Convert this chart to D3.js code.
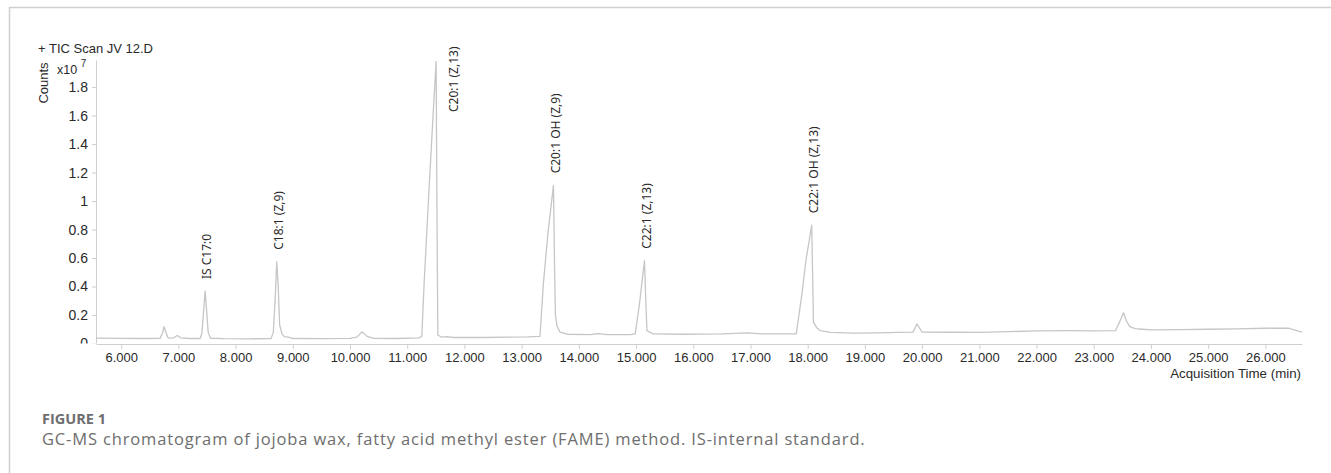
<!DOCTYPE html>
<html>
<head>
<meta charset="utf-8">
<script src="https://cdn.jsdelivr.net/npm/d3@7"></script>
<style>
  html, body { margin: 0; padding: 0; background: #fff; }
  #chart { width: 1331px; height: 473px; }
</style>
</head>
<body>
<div id="chart"></div>
<script>
//Datos (tiempo en min, cuentas x10^7)
const traceTime = [5.56, 6.00, 6.40, 6.68, 6.72, 6.75, 6.78, 6.82, 6.92, 6.98, 7.04, 7.20, 7.38, 7.41, 7.44, 7.467, 7.49, 7.52, 7.56, 7.80,
    8.20, 8.62, 8.66, 8.69, 8.72, 8.745, 8.77, 8.81, 8.85, 8.92, 9.00, 9.50, 10.00, 10.12, 10.21, 10.30, 10.40, 10.80, 11.20, 11.255,
    11.295, 11.37, 11.45, 11.505, 11.52, 11.535, 11.60, 11.70, 11.80, 12.30, 12.80, 13.10, 13.32, 13.38, 13.46, 13.556, 13.575, 13.59, 13.62, 13.67,
    13.80, 14.20, 14.33, 14.50, 14.90, 14.985, 15.06, 15.147, 15.17, 15.19, 15.30, 15.80, 16.50, 16.95, 17.20, 17.80, 17.90, 17.97, 18.07, 18.09,
    18.10, 18.16, 18.22, 18.40, 18.80, 19.20, 19.60, 19.84, 19.91, 20.00, 20.50, 21.00, 21.50, 22.00, 22.60, 23.00, 23.38, 23.45, 23.52, 23.57,
    23.63, 23.72, 23.85, 24.00, 24.50, 25.00, 25.50, 26.00, 26.40, 26.50, 26.64];
const traceCounts = [0.038, 0.036, 0.035, 0.036, 0.07, 0.118, 0.08, 0.038, 0.04, 0.056, 0.04, 0.035, 0.035, 0.07, 0.22, 0.368, 0.25, 0.08, 0.037, 0.034,
    0.033, 0.034, 0.08, 0.3, 0.574, 0.4, 0.13, 0.07, 0.048, 0.045, 0.035, 0.034, 0.036, 0.045, 0.082, 0.05, 0.037, 0.035, 0.04, 0.05,
    0.42, 1.0, 1.59, 1.98, 0.9, 0.06, 0.045, 0.048, 0.042, 0.042, 0.045, 0.046, 0.05, 0.42, 0.775, 1.11, 0.55, 0.2, 0.12, 0.08,
    0.065, 0.062, 0.07, 0.062, 0.063, 0.067, 0.28, 0.581, 0.3, 0.09, 0.067, 0.065, 0.068, 0.075, 0.068, 0.067, 0.35, 0.586, 0.83, 0.4,
    0.15, 0.11, 0.09, 0.078, 0.073, 0.074, 0.078, 0.08, 0.137, 0.08, 0.079, 0.078, 0.083, 0.088, 0.09, 0.088, 0.09, 0.15, 0.216, 0.16,
    0.118, 0.105, 0.1, 0.095, 0.097, 0.1, 0.102, 0.107, 0.108, 0.095, 0.079];

//Picos identificados
const peakNames = ['IS C17:0', 'C18:1 (Z,9)', 'C20:1 (Z,13)', 'C20:1 OH (Z,9)', 'C22:1 (Z,13)', 'C22:1 OH (Z,13)'];
const peakTimes = [7.467, 8.72, 11.505, 13.556, 15.147, 18.07];
const peakCounts = [0.368, 0.574, 1.98, 1.11, 0.581, 0.83];

//Ticks
const xTicks = [6, 7, 8, 9, 10, 11, 12, 13, 14, 15, 16, 17, 18, 19, 20, 21, 22, 23, 24, 25, 26];
const yTicks = [0, 0.2, 0.4, 0.6, 0.8, 1, 1.2, 1.4, 1.6, 1.8];

const COLOR_TRACE = '#c6c6c6',
    COLOR_AXIS = '#cfcfcf',
    COLOR_TEXT = '#2a2a2a',
    COLOR_CAPTION = '#6e6e6e';

let svg = d3.select('#chart')
    .append('svg')
        .attr('width', 1331)
        .attr('height', 473);

//Marco
svg.append('path')
    .attr('d', 'M9.5,480V7.5H1340')
    .attr('fill', 'none')
    .attr('stroke', '#d0d0d0')
    .attr('stroke-width', 1.5);

let x = d3.scaleLinear()
    .domain([5.56, 26.64])
    .range([96, 1302]);

let y = d3.scaleLinear()
    .domain([0, 1.99])
    .range([343.5, 60]);

//Eje X
let gx = svg.append('g')
    .attr('transform', 'translate(0,344)')
    .call(d3.axisBottom(x).tickValues(xTicks).tickFormat(d3.format('.3f')).tickSize(5).tickPadding(4).tickSizeOuter(0));

//Eje Y (la etiqueta 0 queda cortada por el eje como en el original)
svg.append('clipPath')
    .attr('id', 'clipY')
    .append('rect')
        .attr('x', -100).attr('y', 40).attr('width', 104).attr('height', 303.5);

let gy = svg.append('g')
    .attr('transform', 'translate(96,0)')
    .attr('clip-path', 'url(#clipY)')
    .call(d3.axisLeft(y).tickValues(yTicks).tickFormat(function(d) { return +d.toFixed(1); }).tickSize(4).tickPadding(4).tickSizeOuter(0));

[gx, gy].forEach(function(g) {
    g.select('.domain').attr('stroke', COLOR_AXIS);
    g.selectAll('.tick line').attr('stroke', COLOR_AXIS);
    g.selectAll('.tick text')
        .attr('fill', COLOR_TEXT)
        .style('font-family', '"Liberation Sans", Arial, sans-serif')
        .style('font-size', '13px');
});
gy.selectAll('.tick text').style('font-size', '14px');

//Traza del cromatograma
let trace = traceTime.map(function(t, i) { return [t, traceCounts[i]]; });

svg.append('path')
    .datum(trace)
    .attr('fill', 'none')
    .attr('stroke', COLOR_TRACE)
    .attr('stroke-width', 1.3)
    .attr('stroke-linejoin', 'round')
    .attr('d', d3.line()
        .x(function(d) { return x(d[0]); })
        .y(function(d) { return y(d[1]); }));

//Etiquetas de los picos
svg.append('g')
    .selectAll('text')
    .data(peakNames)
    .enter()
    .append('text')
    .attr('transform', function(d, i) {
        if (peakCounts[i] > 1.8) {
            //pico que llega arriba: etiqueta al lado
            return 'translate(' + (x(peakTimes[i]) + 18) + ',' + 112 + ') rotate(-90)';
        }
        return 'translate(' + (x(peakTimes[i]) + 2) + ',' + (y(peakCounts[i]) - 12) + ') rotate(-90)';
    })
    .attr('dy', '0.35em')
    .attr('fill', COLOR_TEXT)
    .style('font-family', '"Noto Sans", sans-serif')
    .style('font-size', '12px')
    .text(function(d) { return d; });

//Textos del grafico
svg.append('text')
    .attr('x', 38).attr('y', 53)
    .attr('fill', COLOR_TEXT)
    .style('font-family', '"Liberation Sans", Arial, sans-serif')
    .style('font-size', '13px')
    .text('+ TIC Scan JV 12.D');

svg.append('text')
    .attr('transform', 'translate(43,83) rotate(-90)')
    .attr('text-anchor', 'middle')
    .attr('dy', '0.35em')
    .attr('fill', COLOR_TEXT)
    .style('font-family', '"Liberation Sans", Arial, sans-serif')
    .style('font-size', '13px')
    .text('Counts');

let mult = svg.append('text')
    .attr('x', 57).attr('y', 74)
    .attr('fill', COLOR_TEXT)
    .style('font-family', '"Liberation Sans", Arial, sans-serif')
    .style('font-size', '12.5px');
mult.append('tspan').text('x10 ');
mult.append('tspan').attr('dy', -7).style('font-size', '10px').text('7');

svg.append('text')
    .attr('x', 1301).attr('y', 378)
    .attr('text-anchor', 'end')
    .attr('fill', COLOR_TEXT)
    .style('font-family', '"Liberation Sans", Arial, sans-serif')
    .style('font-size', '13.3px')
    .text('Acquisition Time (min)');

//Pie de figura
svg.append('text')
    .attr('x', 42).attr('y', 423.5)
    .attr('fill', COLOR_CAPTION)
    .style('font-family', '"Open Sans", sans-serif')
    .style('font-weight', 'bold')
    .style('font-size', '14.5px')
    .text('FIGURE 1');

svg.append('text')
    .attr('x', 42).attr('y', 445)
    .attr('fill', COLOR_CAPTION)
    .style('font-family', '"Open Sans", sans-serif')
    .style('font-size', '16.5px')
    .style('letter-spacing', '0.85px')
    .text('GC-MS chromatogram of jojoba wax, fatty acid methyl ester (FAME) method. IS-internal standard.');
</script>
</body>
</html>
